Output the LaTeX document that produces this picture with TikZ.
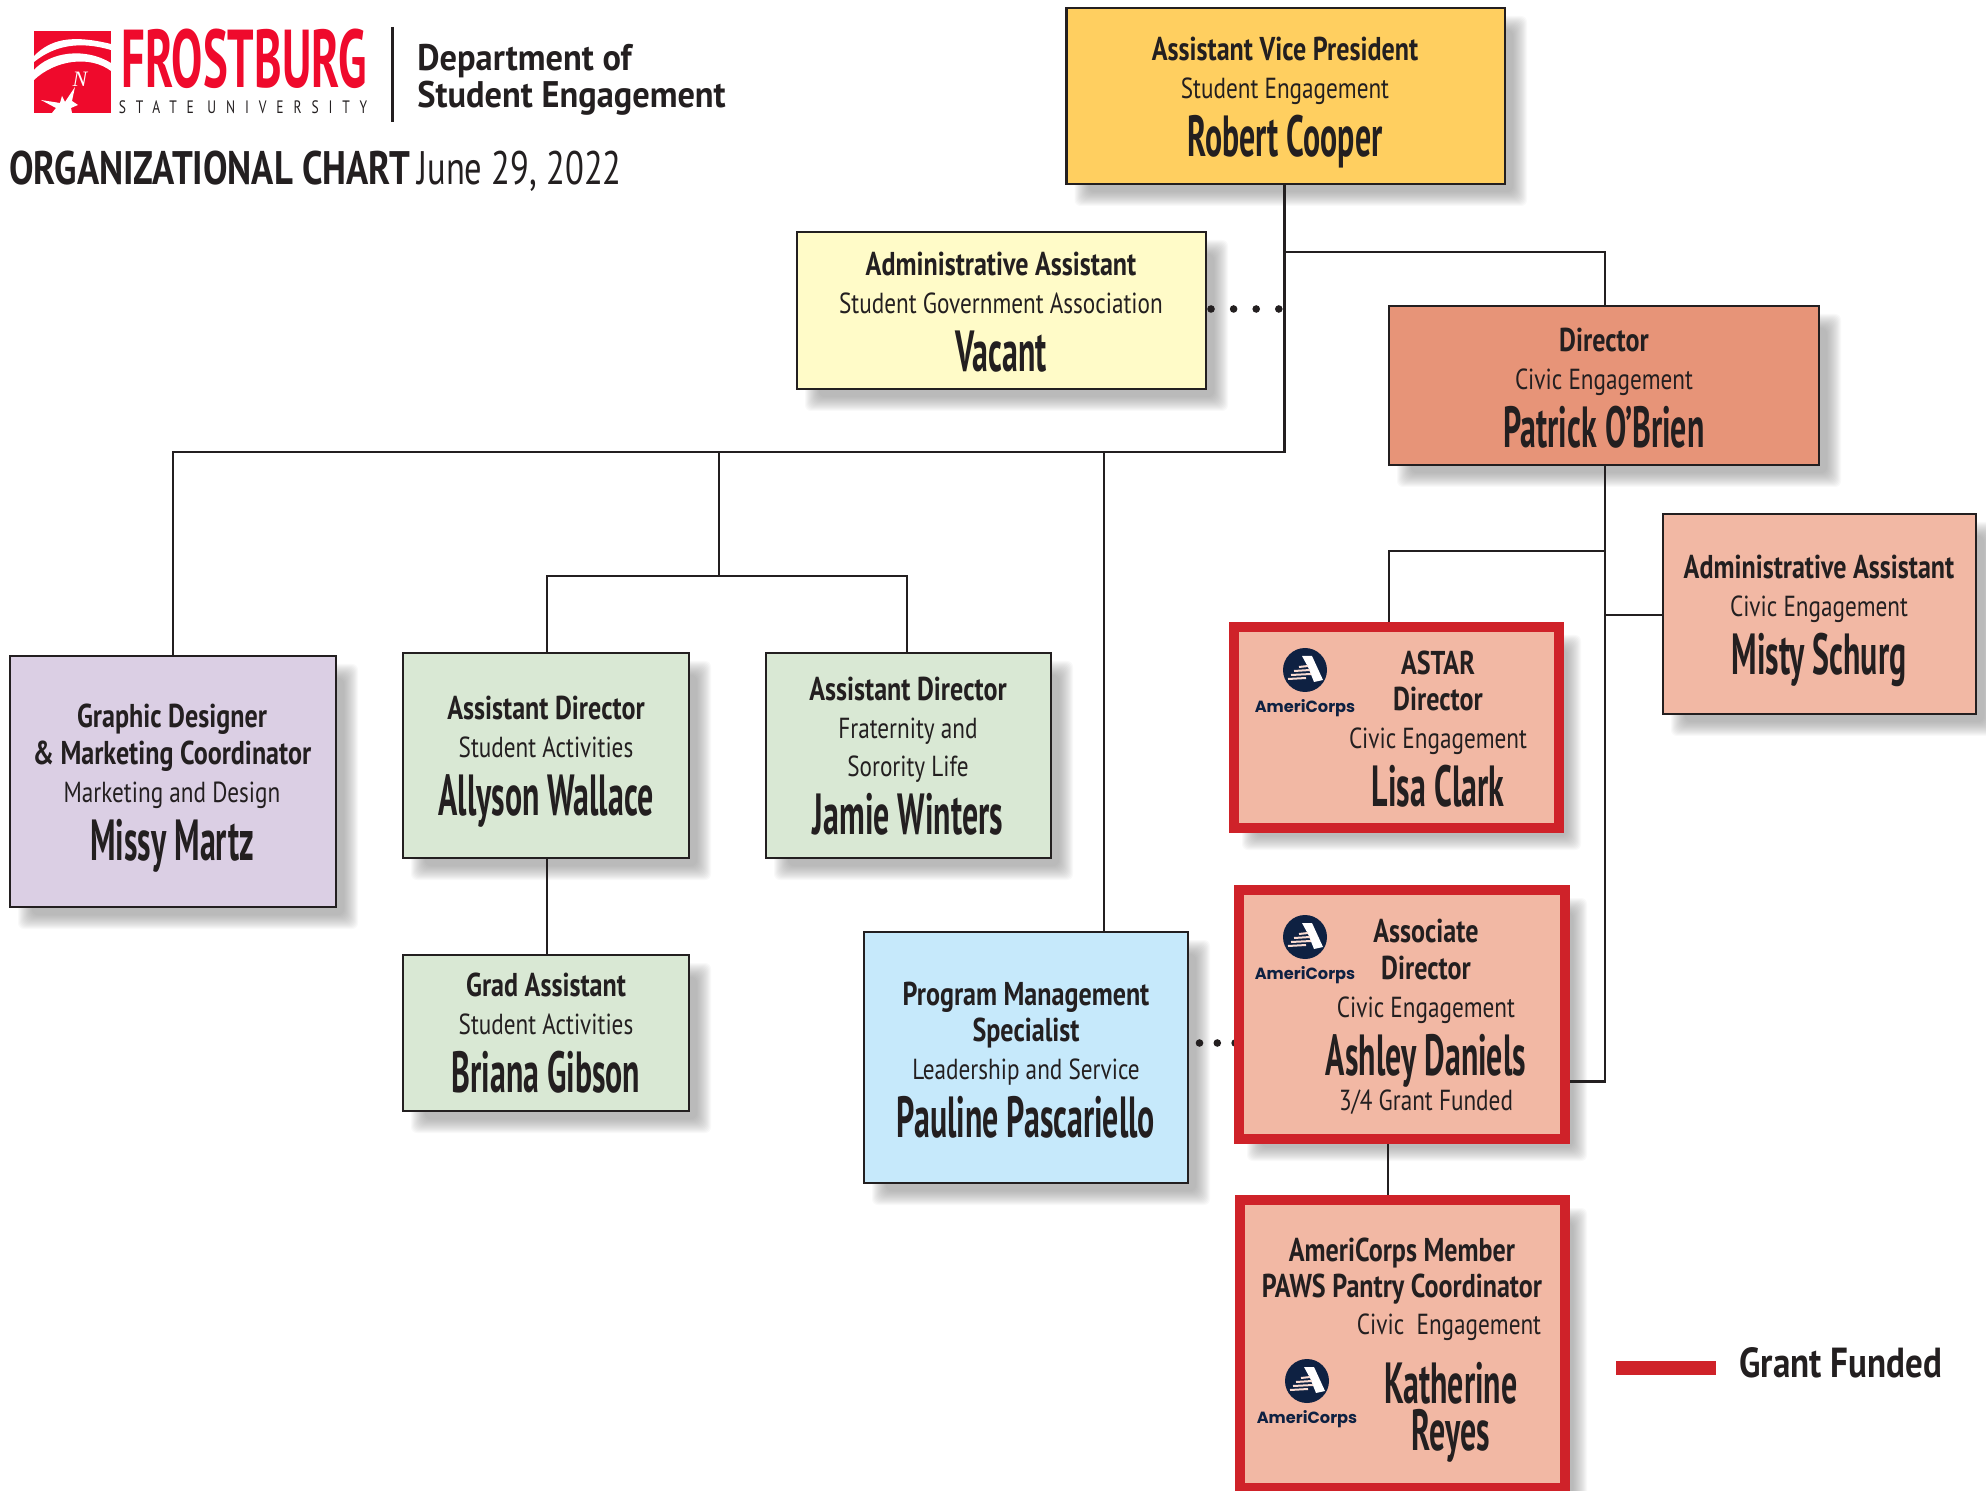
\documentclass[tikz,border=0pt]{standalone}
\usepackage{fontspec}
\setmainfont{PT Sans}
\newfontfamily\fTi[FakeStretch=0.79]{PT Sans}
\newfontfamily\fSu[FakeStretch=0.80]{PT Sans}
\newfontfamily\fNa[FakeStretch=0.55]{PT Sans}
\newfontfamily\fFr[FakeStretch=0.57]{PT Sans}
\newfontfamily\fUn[FakeStretch=0.75,LetterSpace=55]{PT Sans}
\newfontfamily\fDe[FakeStretch=0.93]{PT Sans}
\newfontfamily\fOr[FakeStretch=0.78]{PT Sans}
\newfontfamily\fJu[FakeStretch=0.735]{PT Sans}
\newfontfamily\fLe[FakeStretch=0.834]{PT Sans}
\newfontfamily\fAc{Poppins}
\newfontfamily\fNs{Liberation Serif}
\newcommand\oT{\fTi\bfseries\fontsize{16.5}{19}\selectfont}
\newcommand\oS{\fSu\fontsize{14.5}{19}\selectfont}
\newcommand\oN{\fNa\bfseries\fontsize{29}{19}\selectfont}
\AtBeginDocument{\normallineskiplimit=-1000pt\relax\lineskiplimit=-1000pt\relax}
\definecolor{ink}{HTML}{231F20}
\definecolor{navy}{HTML}{0E2142}
\definecolor{fsured}{HTML}{EF0A2C}
\definecolor{grantred}{HTML}{CF2229}
\definecolor{cAvp}{HTML}{FFCF60}
\definecolor{cAdm}{HTML}{FFFBC8}
\definecolor{cDir}{HTML}{E79478}
\definecolor{cPeach}{HTML}{F2B8A4}
\definecolor{cGreen}{HTML}{D9E8D4}
\definecolor{cPurple}{HTML}{DBCFE4}
\definecolor{cBlue}{HTML}{C6E9FB}
\pgfdeclarelayer{shadowlayer}
\pgfdeclarelayer{connlayer}
\pgfsetlayers{shadowlayer,connlayer,main}
\tikzset{
  orgbox/.style={draw=ink,line width=1.4pt,inner sep=0pt,outer sep=0pt},
  grantbox/.style={draw=grantred,fill=cPeach,line width=5pt,inner sep=0pt,outer sep=0pt},
  txt/.style={text=ink,align=center,inner sep=0pt,font=\fontsize{14.5}{19}\selectfont},
  conn/.style={draw=ink,line width=1.3pt},
  dots/.style={draw=ink,line width=3.8pt,line cap=round},
}
\newcommand\obox[6]{%
  \begin{pgfonlayer}{shadowlayer}
    \foreach \i in {-7,...,7}{
      \fill[black!50,opacity=0.05,rounded corners=3pt]
        (#3+15+\i,#4+15+\i) rectangle (#5+15-\i,#6+15-\i);
    }
  \end{pgfonlayer}
  \pgfmathsetmacro\bw{(#5-#3)*0.5}
  \pgfmathsetmacro\bh{(#6-#4)*0.5}
  \node[#2,minimum width=\bw pt,minimum height=\bh pt] (#1) at ({(#3+#5)/2},{(#4+#6)/2}) {};
}
\newcommand\acorps[3]{%
  \node[circle,fill=navy,minimum size=22pt,inner sep=0pt] (#1c) at (#2,#3) {};
  \begin{scope}[shift={(#2,#3)}]
    \fill[white] (-3,-14) -- (7,-14) -- (18,10) -- (9,12) -- (3,-3) -- cycle;
    \foreach \yy/\xa/\xb in {-3/-6/3,1/-11/5,5/-14/6,9/-17/1}
      \draw[cPeach!50!white,line width=1pt] (\xa,\yy) -- (\xb,\yy-1);
  \end{scope}
  \node[text=navy,inner sep=0pt,font=\fAc\bfseries\fontsize{8.1}{10}\selectfont] (#1t) at (#2,#3+38) {AmeriCorps};
}
\begin{document}
\begin{tikzpicture}[x=0.5pt,y=-0.5pt]
\useasboundingbox (0,0) rectangle (1986,1491);

% logo
\path[fill=fsured] (34,31) rectangle (111,113);
\fill[white] (34,56) .. controls (50,40) and (70,34) .. (111,44) -- (111,50) .. controls (80,41) and (55,45) .. (34,62) -- cycle;
\fill[white] (34,70) .. controls (50,52) and (85,47) .. (111,63) -- (111,71) .. controls (90,55) and (55,60) .. (34,80) -- cycle;
\fill[white] (75,87) -- (72,101) -- (78,105) -- (71,108) -- (72,113) -- (52,113) -- (56,108) -- (41,100) -- (60,103) -- (62,96) -- (65,102) -- cycle;
\node[text=white,inner sep=0pt,font=\fNs\itshape\fontsize{11}{12}\selectfont] (logoN) at (80,79) {N};
\node[text=fsured,inner sep=0pt,font=\fFr\bfseries\fontsize{41}{41}\selectfont] (logoF) at (244,59) {FROSTBURG};
\node[text=ink,inner sep=0pt,font=\fUn\fontsize{9}{10}\selectfont] (logoS) at (243,107) {STATE UNIVERSITY};
\draw[ink,line width=1.5pt] (392,27) -- (392,122);
\node[txt,anchor=west,font=\fDe\bfseries\fontsize{18.5}{19}\selectfont] (dept1) at (417,61) {Department of};
\node[txt,anchor=west,font=\fDe\bfseries\fontsize{18.5}{19}\selectfont] (dept2) at (417,98) {Student Engagement};
\node[txt,anchor=west,font=\fOr\bfseries\fontsize{23.5}{24}\selectfont] (hdr1) at (9,168) {ORGANIZATIONAL CHART};
\node[txt,anchor=west,font=\fJu\fontsize{23.5}{24}\selectfont] (hdr2) at (417,171) {June 29, 2022};

% boxes
\obox{avp}{orgbox,fill=cAvp}{1066.5}{8}{1505}{184}
\obox{adm}{orgbox,fill=cAdm}{797}{232}{1206}{389}
\obox{dir}{orgbox,fill=cDir}{1389}{306}{1819}{465}
\obox{admce}{orgbox,fill=cPeach}{1663}{514}{1976}{714}
\obox{astar}{grantbox}{1234}{627}{1559}{828}
\obox{assoc}{grantbox}{1239}{890}{1565}{1139}
\obox{member}{grantbox}{1240}{1200}{1565}{1488}
\obox{gd}{orgbox,fill=cPurple}{10}{656}{336}{907}
\obox{ally}{orgbox,fill=cGreen}{403}{653}{689}{858}
\obox{jamie}{orgbox,fill=cGreen}{766}{653}{1051}{858}
\obox{briana}{orgbox,fill=cGreen}{403}{955}{689}{1111}
\obox{pauline}{orgbox,fill=cBlue}{864}{932}{1188}{1183}

% box texts
\node[txt] (avpT) at (1285,103) {{\oT Assistant Vice President}\\{\oS Student Engagement}\\[10pt]{\oN Robert Cooper}};
\node[txt] (admT) at (1001,312) {{\oT Administrative Assistant}\\{\oS Student Government Association}\\[10pt]{\oN Vacant}};
\node[txt] (dirT) at (1604,388) {{\oT Director}\\{\oS Civic Engagement}\\[10pt]{\oN Patrick O’Brien}};
\node[txt] (admceT) at (1819,621) {{\oT Administrative Assistant}\\{\oS Civic Engagement}\\[10pt]{\oN Misty Schurg}};
\node[txt] (astarT) at (1438,729) {{\oT ASTAR}\\[-0.8pt]{\oT Director}\\{\oS Civic Engagement}\\[10pt]{\oN Lisa Clark}};
\node[txt] (assocT) at (1426,1017) {{\oT Associate}\\[-0.8pt]{\oT Director}\\{\oS Civic Engagement}\\[10pt]{\oN Ashley Daniels}\\[-1.2pt]{\oS 3/4 Grant Funded}};
\node[txt] (memberT) at (1402,1271) {{\oT AmeriCorps Member}\\[-1pt]{\oT PAWS Pantry Coordinator}};
\node[txt] (memberS) at (1449,1327) {\oS Civic\ \ Engagement};
\node[txt] (memberN) at (1451,1412) {{\oN Katherine}\\[4.5pt]{\oN Reyes}};
\node[txt] (gdT) at (172,788) {{\oT Graphic Designer}\\[-0.8pt]{\oT \& Marketing Coordinator}\\{\oS Marketing and Design}\\[10pt]{\oN Missy Martz}};
\node[txt] (allyT) at (546,762) {{\oT Assistant Director}\\{\oS Student Activities}\\[10pt]{\oN Allyson Wallace}};
\node[txt] (jamieT) at (908,756) {{\oT Assistant Director}\\{\oS Fraternity and}\\{\oS Sorority Life}\\[10pt]{\oN Jamie Winters}};
\node[txt] (brianaT) at (546,1033) {{\oT Grad Assistant}\\{\oS Student Activities}\\[10pt]{\oN Briana Gibson}};
\node[txt] (paulineT) at (1026,1060) {{\oT Program Management}\\[-0.8pt]{\oT Specialist}\\{\oS Leadership and Service}\\[10pt]{\oN Pauline Pascariello}};

\acorps{acA}{1305}{670}
\acorps{acB}{1305}{937}
\acorps{acC}{1307}{1381}

% legend
\node[fill=grantred,minimum width=50pt,minimum height=7pt,inner sep=0pt] (legBar) at (1666,1368) {};
\node[txt,anchor=west,font=\fLe\bfseries\fontsize{21}{23}\selectfont] (legT) at (1739,1363) {Grant Funded};

% junction coordinates
\coordinate (busA) at (1284.5,452);
\coordinate (busB) at (719,452);
\coordinate (busC) at (719,576);
\coordinate (busD) at (1104,452);
\coordinate (paulineTop) at (1104,932);
\coordinate (busE) at (1284.5,252);
\coordinate (dirRun) at (1605,551);
\coordinate (astarTop) at (1389,622);
\coordinate (admRun) at (1605,615);
\coordinate (assocRun) at (1605,1081.5);
\coordinate (assocBot) at (1388,1144);
\coordinate (memberTop) at (1388,1195);
\coordinate (allyX) at (547,576);
\coordinate (jamieX) at (907,576);
\coordinate (admDot) at (1279,309);
\coordinate (admStart) at (1211,309);
\coordinate (paulDotA) at (1199.5,1043);
\coordinate (paulDotB) at (1236,1043);

\begin{pgfonlayer}{connlayer}
  \draw[conn] (busA |- avp.south) -- (busA) -| (gd.north);
  \draw[conn] (busE) -| (dirRun |- dir.north);
  \draw[conn] (busB) -- (busC);
  \draw[conn] (allyX |- ally.north) -- (allyX) -- (jamieX) -- (jamieX |- jamie.north);
  \draw[conn] (busD) -- (paulineTop);
  \draw[conn] (allyX |- ally.south) -- (allyX |- briana.north);
  \draw[conn] (dirRun |- dir.south) -- (assocRun) -- (assocRun -| assoc.east);
  \draw[conn] (dirRun) -| (astarTop);
  \draw[conn] (admRun) -- (admRun -| admce.west);
  \draw[conn] (assocBot) -- (memberTop);
  \draw[dots,dash pattern=on 0pt off 11.3pt] (admStart) -- (admDot);
  \draw[dots,dash pattern=on 0pt off 8.9pt] (paulDotA) -- (paulDotB);
\end{pgfonlayer}
\end{tikzpicture}
\end{document}
